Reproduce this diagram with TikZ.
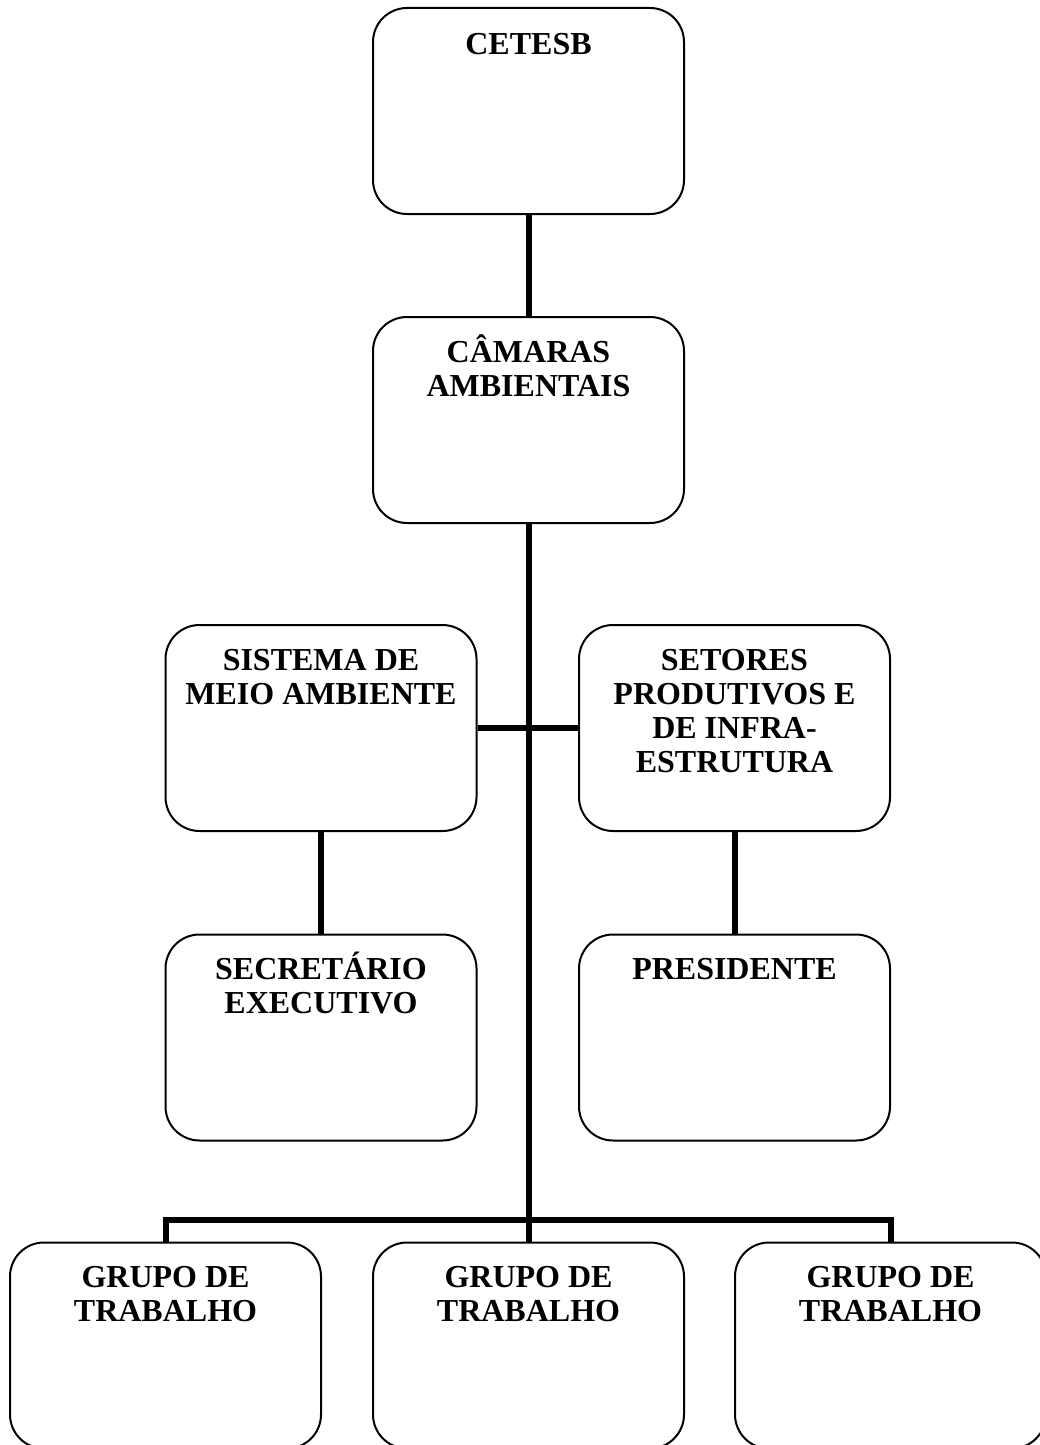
\documentclass[tikz,border=0pt]{standalone}
\usepackage{fontspec}
\setmainfont{Liberation Serif}
\newcommand{\orgfont}{\bfseries\fontsize{32}{34}\selectfont}
\newcommand{\toprule}{\rule{0pt}{30pt}}

\begin{document}
\begin{tikzpicture}[
x=1pt, y=-1pt,
orgbox/.style={
draw,
line width=2pt,
rounded corners=34pt,
minimum width=311pt,
minimum height=206pt,
inner sep=0 pt,
},
orgtext/.style={
anchor=north,
align=center,
font=\orgfont,
inner sep=0 pt,
},
link/.style={line width=6pt}
]
\useasboundingbox (0,0) rectangle (1040,1445);
\clip (0,0) rectangle (1040,1445);

% boxes
\node [orgbox] at (528.5,111) (cetesb) {};
\node [orgbox] at (528.5,420) (camaras) {};
\node [orgbox] at (321,728) (sistema) {};
\node [orgbox] at (734.5,728) (setores) {};
\node [orgbox] at (321,1037.5) (secretario) {};
\node [orgbox] at (734.5,1037.5) (presidente) {};
\node [orgbox] at (165.5,1345.5) (grupo1) {};
\node [orgbox] at (528.5,1345.5) (grupo2) {};
\node [orgbox] at (890.5,1345.5) (grupo3) {};

% texts (first baseline about 46pt below the box top)
\node [orgtext] at ([yshift=-17pt]cetesb.north) (cetesbT) {\toprule CETESB};
\node [orgtext] at ([yshift=-16pt]camaras.north) (camarasT) {\toprule CÂMARAS\\AMBIENTAIS};
\node [orgtext] at ([yshift=-16pt]sistema.north) (sistemaT) {\toprule SISTEMA DE\\MEIO AMBIENTE};
\node [orgtext] at ([yshift=-16pt]setores.north) (setoresT)
{\toprule SETORES\\PRODUTIVOS E\\DE INFRA-\\ESTRUTURA};
\node [orgtext] at ([yshift=-16pt]secretario.north) (secretarioT) {\toprule SECRETÁRIO\\EXECUTIVO};
\node [orgtext] at ([yshift=-16pt]presidente.north) (presidenteT) {\toprule PRESIDENTE};
\foreach \g in {1,2,3}
\node [orgtext] at ([yshift=-16pt]grupo\g.north) (grupo\g T) {\toprule GRUPO DE\\TRABALHO};

% connectors
\coordinate (bus) at (528.5,1220);
\draw [link] (cetesb) -- (camaras);
\draw [link] (camaras) -- (grupo2);
\draw [link] (sistema) -- (setores);
\draw [link] (sistema) -- (secretario);
\draw [link] (setores) -- (presidente);
\draw [link] (grupo1.north) -- (grupo1.north |- bus) -- (grupo3.north |- bus)
-- (grupo3.north);

\end{tikzpicture}
\end{document}
